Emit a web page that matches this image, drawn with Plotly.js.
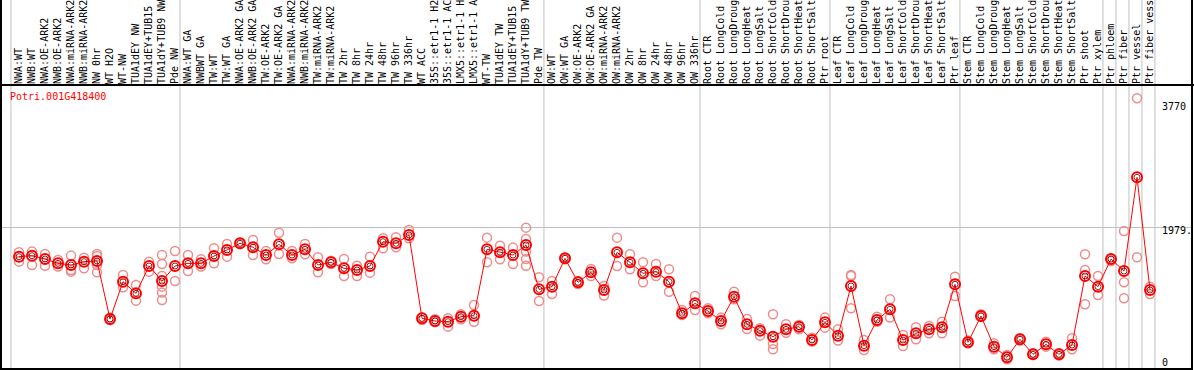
<!DOCTYPE html>
<html>
<head>
<meta charset="utf-8">
<script src="https://cdn.plot.ly/plotly-3.0.1.min.js"></script>
<style>html,body{margin:0;padding:0;background:#fff;}#chart{width:1194px;height:370px;}</style>
</head>
<body>
<div id="chart"></div>
<script>
const geneName = "Potri.001G418400";

const categories = [
  "NWA:WT","NWB:WT","NWA:OE-ARK2","NWB:OE-ARK2","NWA:miRNA-ARK2","NWB:miRNA-ARK2","NW 0hr","WT H2O","WT-NW","TUA1dEY NW","TUA1dEY+TUB15 NW","TUA1dY+TUB9 NW","Pde NW",
  "NWA:WT GA","NWBWT GA","TW:WT","TW:WT GA","NWA:OE-ARK2 GA","NWB:OE-ARK2 GA","TW:OE-ARK2","TW:OE-ARK2 GA","NWA:miRNA-ARK2","NWB:miRNA-ARK2","TW:miRNA-ARK2","TW:miRNA-ARK2","TW 2hr","TW 8hr","TW 24hr","TW 48hr","TW 96hr","TW 336hr","WT ACC","35S::etr1-1 H2O","35S::etr1-1 ACC","LMX5::etr1-1 H2O","LMX5::etr1-1 ACC","WT-TW","TUA1dEY TW","TUA1dEY+TUB15 TW","TUA1dY+TUB9 TW","Pde TW",
  "OW:WT","OW:WT GA","OW:OE-ARK2","OW:OE-ARK2 GA","OW:miRNA-ARK2","OW:miRNA-ARK2","OW 2hr","OW 8hr","OW 24hr","OW 48hr","OW 96hr","OW 336hr",
  "Root CTR","Root LongCold","Root LongDrought","Root LongHeat","Root LongSalt","Root ShortCold","Root ShortDrought","Root ShortHeat","Root ShortSalt","Ptr root",
  "Leaf CTR","Leaf LongCold","Leaf LongDrought","Leaf LongHeat","Leaf LongSalt","Leaf ShortCold","Leaf ShortDrought","Leaf ShortHeat","Leaf ShortSalt","Ptr leaf",
  "Stem CTR","Stem LongCold","Stem LongDrought","Stem LongHeat","Stem LongSalt","Stem ShortCold","Stem ShortDrought","Stem ShortHeat","Stem ShortSalt","Ptr shoot","Ptr xylem",
  "Ptr phloem","Ptr fiber","Ptr vessel","Ptr fiber vessel"
];

const means = [
  1551,1566,1517,1453,1429,1478,1488,633,1183,1011,1414,1193,1414,
  1453,1453,1561,1650,1748,1689,1576,1733,1576,1660,1429,1468,1380,1355,1414,1772,1748,1871,643,604,594,668,682,1660,1615,1576,1723,1070,
  1110,1527,1173,1321,1061,1615,1468,1306,1331,1183,717,864,
  751,604,962,555,462,373,481,520,324,584,
  388,1119,241,619,776,324,422,481,511,1144,
  290,678,226,69,334,113,260,113,250,1267,1110,
  1517,1340,2720,1061
];

const replicates = [
  [1616,1478],[1626,1429],[1591,1419],[1503,1405],[1567,1356,1331],[1537,1380],[1591,1562,1429,1321],[654,619],[1282,1100],[1135,904],[1478,1331],[1577,1444,1267,1110,1022,914],[1635,1194],
  [1577,1341],[1513,1405],[1675,1454],[1739,1552],[1758,1739],[1797,1577],[1635,1513],[1905,1591],[1635,1527],[1739,1586],[1542,1321],[1493,1444],[1518,1267],[1419,1267],[1552,1316],[1822,1675],[1837,1690],[1945,1822],[654,619],[629,585],[644,521],[703,629],[840,594],[1832,1469],[1714,1513],[1685,1444],[1979,1812,1626,1518,1419],[1248,899],
  [1194,1002],[1537,1513],[1194,1149],[1370,1267],[1120,978],[1832,1414],[1586,1365],[1469,1174],[1444,1267],[1365,1036],[766,693],[973,766],
  [791,717],[654,555],[1036,924],[634,486],[496,388],[703,266,187],[555,432],[545,481],[359,300],[654,506],
  [481,315],[1282,1267,791],[324,177],[668,594],[924,654],[398,236],[511,334],[531,423],[594,423],[1257,973],
  [315,275],[703,668],[275,187],[103,40],[349,315],[113,128],[300,226],[128,94],[349,187],[1586,1356,850],[1267,987],
  [1518,1488],[1930,1174,938],[3884,1542],[1110,1002]
];

// last index of each group (separators drawn just after)
const groupEnds = [-1, 12, 40, 52, 62, 72, 83, 84, 85, 86, 87];

const yTickVals = [0, 1979.5, 3770];
const yTickText = ["0", "1979.", "3770"];

const idx = categories.map((c, i) => i);
const repX = [], repY = [];
replicates.forEach((r, i) => r.forEach(v => { repX.push(i); repY.push(v); }));

const mono = "DejaVu Sans Mono, monospace";

const traces = [
  {
    x: repX, y: repY, type: "scatter", mode: "markers",
    marker: {symbol: "circle-open", size: 9, color: "#ee8c8c", line: {width: 1.5}},
    hoverinfo: "skip", showlegend: false
  },
  {
    x: idx, y: means, type: "scatter", mode: "lines+markers",
    line: {color: "#ff0000", width: 1},
    marker: {symbol: "circle-open", size: 10, color: "#ff0000", line: {width: 2}},
    showlegend: false
  },
  {
    x: idx, y: means, type: "scatter", mode: "markers",
    marker: {symbol: "circle-open", size: 6, color: "#5a0000", line: {width: 0.8}},
    hoverinfo: "skip", showlegend: false
  }
];

const shapes = [];
groupEnds.forEach(g => {
  shapes.push({type: "line", xref: "x", yref: "paper", x0: g + 0.38, x1: g + 0.38, y0: 0, y1: 1.31,
    line: {color: "#c0c0c0", width: 1}, layer: "below"});
});
shapes.push({type: "rect", xref: "paper", yref: "paper", x0: 0, x1: 1, y0: 0, y1: 1.31,
  line: {color: "#000", width: 2}});
shapes.push({type: "line", xref: "paper", yref: "paper", x0: -0.01, x1: 1.01, y0: 1, y1: 1,
  line: {color: "#000", width: 2}});

const annotations = yTickVals.map((v, i) => ({
  xref: "paper", yref: "y", x: 0.9728, y: v, xanchor: "left", yanchor: "middle",
  yshift: i === 1 ? -3 : 0,
  text: yTickText[i], showarrow: false, font: {family: mono, size: 10, color: "#000"}
}));
annotations.push({
  xref: "paper", yref: "paper", x: 0.006, y: 0.958, xanchor: "left", yanchor: "middle",
  text: geneName, showarrow: false, font: {family: mono, size: 10, color: "#ff0000"}
});

const layout = {
  width: 1194, height: 370,
  margin: {l: 1, r: 2, t: 85, b: 1, pad: 0},
  paper_bgcolor: "#fff", plot_bgcolor: "#fff",
  xaxis: {
    range: [-1.385, 90.23], side: "top", tickmode: "array", tickvals: idx, ticktext: categories,
    tickangle: -90, ticks: "", showgrid: false, zeroline: false, showline: false,
    tickfont: {family: mono, size: 10, color: "#000"}, ticklabeloverflow: "allow",
    fixedrange: true
  },
  yaxis: {
    range: [-103, 4080], tickmode: "array", tickvals: [yTickVals[1]], showticklabels: false,
    showgrid: true, gridcolor: "#c0c0c0", gridwidth: 1, zeroline: false, showline: false, ticks: "",
    fixedrange: true
  },
  shapes: shapes,
  annotations: annotations,
  showlegend: false,
  hovermode: false
};

Plotly.newPlot("chart", traces, layout, {staticPlot: true, displayModeBar: false});
</script>
</body>
</html>
